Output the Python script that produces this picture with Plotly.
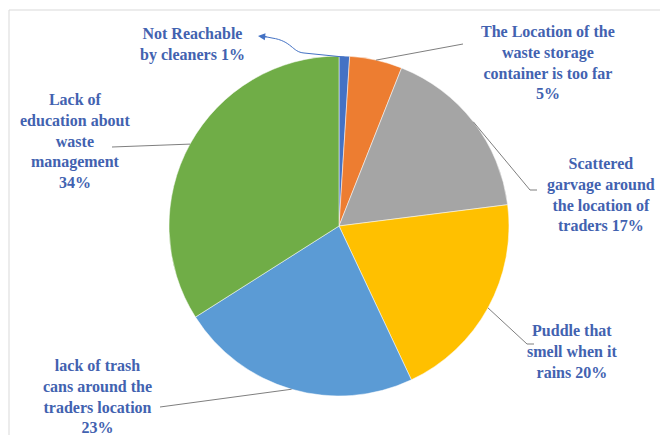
import math
import plotly.graph_objects as go

# Survey: problems reported around waste storage for traders
categories = [
    "Not Reachable<br>by cleaners",
    "The Location of the<br>waste storage<br>container is too far",
    "Scattered<br>garvage around<br>the location of<br>traders",
    "Puddle that<br>smell when it<br>rains",
    "lack of trash<br>cans around the<br>traders location",
    "Lack of<br>education about<br>waste<br>management",
]
percent = [1, 5, 17, 20, 23, 34]
colors = ["#4472C4", "#ED7D31", "#A5A5A5", "#FFC000", "#5B9BD5", "#70AD47"]

# label text: category name followed by its percentage
label_text = [
    "Not Reachable<br>by cleaners {}%",
    "The Location of the<br>waste storage<br>container is too far<br>{}%",
    "Scattered<br>garvage around<br>the location of<br>traders {}%",
    "Puddle that<br>smell when it<br>rains {}%",
    "lack of trash<br>cans around the<br>traders location<br>{}%",
    "Lack of<br>education about<br>waste<br>management<br>{}%",
]

W, H = 660, 435
CX, CY, R = 339, 226, 170  # pie centre and radius in pixels


def px(x):
    return x / W


def py(y):
    return 1 - y / H


# label block centres (pixels)
label_pos = [(192, 44), (548, 62), (601, 194), (572, 351), (97, 396), (75, 141)]

# leader lines: elbow / end points in pixels after leaving the slice edge
leader_end = [None, [(463, 44)], [(530, 190), (537, 190)], [(527, 344), (534, 344)],
              [(160, 407)], [(112, 147)]]

fig = go.Figure(go.Pie(
    labels=[c.replace("<br>", " ") for c in categories],
    values=percent,
    sort=False,
    direction="clockwise",
    rotation=0,
    marker=dict(colors=colors, line=dict(color="white", width=0.5)),
    textinfo="none",
    hoverinfo="label+percent",
    domain=dict(x=[px(CX - R), px(CX + R)], y=[py(CY + R), py(CY - R)]),
    showlegend=False,
))

# slice mid-angle anchors on the rim, derived from the values
total = sum(percent)
anchors = []
cum = 0
for v in percent:
    mid = (cum + v / 2) / total * 2 * math.pi
    anchors.append((CX + R * math.sin(mid), CY - R * math.cos(mid)))
    cum += v

shapes = []
for i, ends in enumerate(leader_end):
    if ends is None:
        continue
    ax0, ay0 = anchors[i]
    d = f"M {px(ax0)},{py(ay0)}"
    for (x, y) in ends:
        d += f" L {px(x)},{py(y)}"
    shapes.append(dict(type="path", path=d, xref="paper", yref="paper",
                       line=dict(color="#7F7F7F", width=1)))

# curved leader with an arrow for the thin first slice
ax0, ay0 = anchors[0]
tip = (258, 36)
curve = (f"M {px(ax0)},{py(ay0 + 1)} L {px(304)},{py(53)} "
         f"C {px(292)},{py(52)} {px(292)},{py(41)} {px(272)},{py(38)} "
         f"L {px(tip[0] + 4)},{py(tip[1])}")
shapes.append(dict(type="path", path=curve, xref="paper", yref="paper",
                   line=dict(color="#4472C4", width=1)))

# chart frame
shapes.append(dict(type="rect", xref="paper", yref="paper",
                   x0=px(9), x1=px(W + 5), y0=py(H + 5), y1=py(10),
                   line=dict(color="#D9D9D9", width=1)))

annotations = [dict(x=px(tip[0]), y=py(tip[1]), xref="paper", yref="paper",
                    ax=10, ay=1, text="", showarrow=True, arrowhead=2,
                    arrowsize=1.2, arrowwidth=1.2, arrowcolor="#4472C4")]

for i, (lx, ly) in enumerate(label_pos):
    annotations.append(dict(
        x=px(lx), y=py(ly), xref="paper", yref="paper",
        text="<b>" + label_text[i].format(percent[i]) + "</b>",
        showarrow=False, align="center", xanchor="center", yanchor="middle",
        font=dict(family="Liberation Serif", size=16, color="#4262B0"),
    ))

fig.update_layout(
    width=W, height=H,
    margin=dict(l=0, r=0, t=0, b=0),
    paper_bgcolor="white",
    shapes=shapes,
    annotations=annotations,
)

fig.write_html("out.html")
